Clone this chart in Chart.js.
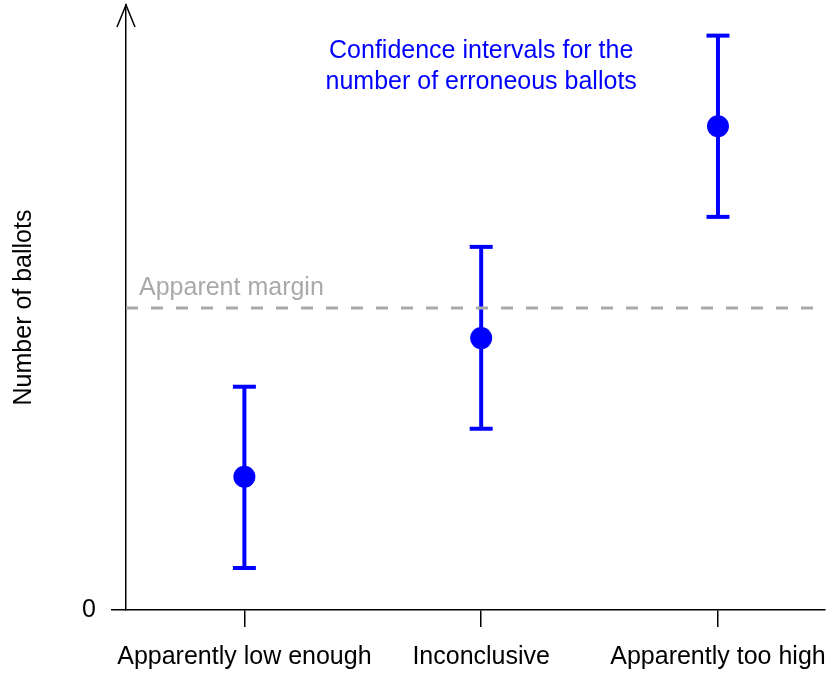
<!DOCTYPE html>
<html>
<head>
<meta charset="utf-8">
<script src="https://cdn.jsdelivr.net/npm/chart.js@4/dist/chart.umd.min.js"></script>
<style>
  body { margin: 0; background: #fff; }
</style>
</head>
<body>
<canvas id="chart" width="829" height="675"></canvas>
<script>
// categories and interval values
const categories = ["Apparently low enough", "Inconclusive", "Apparently too high"];
const estimates = [22.2, 45.3, 80.6];
const lowerBounds = [7.0, 30.2, 65.5];
const upperBounds = [37.2, 60.5, 95.7];
const apparentMargin = 50.3;
const yTicks = [0];

const BLUE = "#0000ff";
const GREY = "#a9a9a9";
const FONT = "'Liberation Sans', Arial, Helvetica, sans-serif";
const X_MIN = 0.5, X_MAX = 3.452;

Chart.defaults.font.family = FONT;
Chart.defaults.font.size = 25;
Chart.defaults.color = "#000";

// one dataset per interval: vertical line with flat caps
const intervalSets = categories.map((c, i) => ({
  type: "line",
  data: [{ x: i + 1, y: lowerBounds[i] }, { x: i + 1, y: upperBounds[i] }],
  showLine: true,
  borderColor: BLUE,
  borderWidth: 4,
  pointStyle: "line",
  pointRadius: 11.5,
  pointBorderWidth: 4,
  pointBorderColor: BLUE,
  pointBackgroundColor: BLUE
}));

// extra drawing: arrow head on the y axis and the two text notes
const extras = {
  id: "extras",
  afterDraw(chart) {
    const { ctx, chartArea, scales } = chart;
    const ax = chartArea.left;
    ctx.save();
    ctx.strokeStyle = "#000";
    ctx.lineWidth = 1.5;
    ctx.beginPath();
    ctx.moveTo(ax - 9, chartArea.top + 22);
    ctx.lineTo(ax, chartArea.top);
    ctx.lineTo(ax + 9, chartArea.top + 22);
    ctx.stroke();

    ctx.font = "25px " + FONT;
    ctx.textBaseline = "alphabetic";
    ctx.fillStyle = GREY;
    ctx.textAlign = "left";
    ctx.fillText("Apparent margin", ax + 13, scales.y.getPixelForValue(apparentMargin) - 13);

    ctx.fillStyle = BLUE;
    ctx.textAlign = "center";
    const cx = scales.x.getPixelForValue(2);
    ctx.fillText("Confidence intervals for the", cx, 58);
    ctx.fillText("number of erroneous ballots", cx, 89);
    ctx.restore();
  }
};

new Chart(document.getElementById("chart"), {
  data: {
    datasets: [
      {
        type: "line",
        data: [{ x: X_MIN, y: apparentMargin }, { x: X_MAX, y: apparentMargin }],
        borderColor: GREY,
        borderWidth: 3,
        borderDash: [12, 13],
        pointRadius: 0
      },
      ...intervalSets,
      {
        type: "scatter",
        data: estimates.map((v, i) => ({ x: i + 1, y: v })),
        pointRadius: 11,
        backgroundColor: BLUE,
        borderWidth: 0
      }
    ]
  },
  options: {
    responsive: false,
    animation: false,
    events: [],
    layout: { autoPadding: false, padding: { top: 5, right: 4, left: 0, bottom: 0 } },
    plugins: { legend: { display: false }, tooltip: { enabled: false } },
    scales: {
      x: {
        type: "linear",
        min: X_MIN,
        max: X_MAX,
        afterBuildTicks: s => { s.ticks = categories.map((c, i) => ({ value: i + 1 })); },
        afterFit: s => { s.height = 65; s.paddingLeft = 0; s.paddingRight = 0; },
        ticks: {
          padding: 15,
          maxRotation: 0,
          autoSkip: false,
          callback: v => categories[v - 1]
        },
        grid: { drawOnChartArea: false, tickLength: 17, color: "#000", lineWidth: 1.5 },
        border: { color: "#000", width: 1.5 }
      },
      y: {
        type: "linear",
        min: 0,
        max: 100.8,
        afterBuildTicks: s => { s.ticks = yTicks.map(v => ({ value: v })); },
        afterFit: s => { s.width = 126; s.paddingTop = 0; s.paddingBottom = 0; },
        ticks: { padding: 15 },
        grid: { drawOnChartArea: false, tickLength: 15, color: "#000", lineWidth: 1.5 },
        border: { color: "#000", width: 1.5 },
        title: {
          display: true,
          text: "Number of ballots",
          padding: { top: 9, bottom: 0 },
          font: { size: 25 }
        }
      }
    }
  },
  plugins: [extras]
});
</script>
</body>
</html>
